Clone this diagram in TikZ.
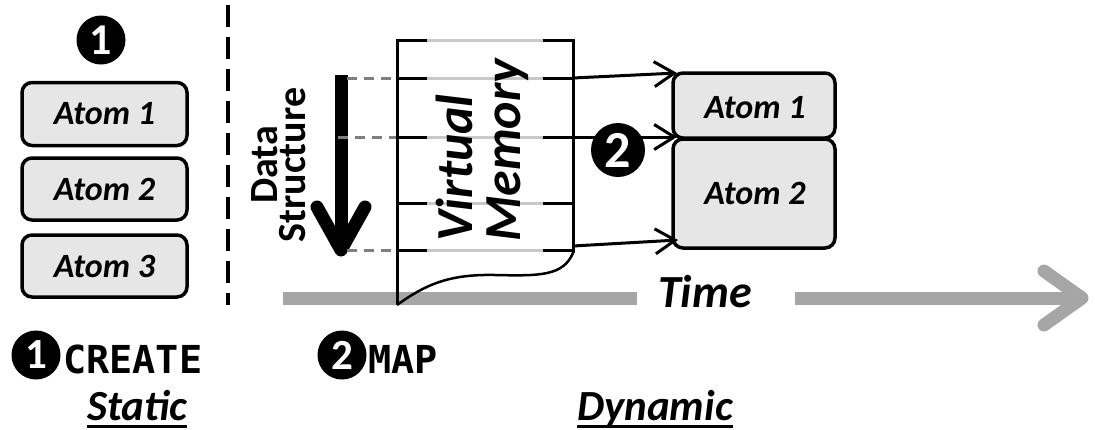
\documentclass[tikz,border=0pt]{standalone}
\usepackage{fontspec}
\setmainfont{Carlito}
\newfontfamily\monofont{DejaVu Sans Mono}
\usetikzlibrary{arrows.meta}
\definecolor{atomfill}{HTML}{E6E6E6}
\definecolor{timegray}{HTML}{A6A6A6}
\definecolor{rowgray}{HTML}{C8C8C8}
\definecolor{dashgray}{HTML}{7F7F7F}
\tikzset{
  atombox/.style={draw=black, line width=3.5pt, fill=atomfill, rounded corners=10pt,
    inner sep=0pt, font=\fontsize{34}{38}\selectfont\bfseries\itshape},
  numcirc/.style={circle, fill=black, text=white, inner sep=0pt, font=\bfseries},
  vmblack/.style={draw=black, line width=3pt},
  vmgray/.style={draw=rowgray, line width=3pt},
  maparrow/.style={draw=black, line width=3pt, -{Straight Barb[length=20pt,width=25pt,line width=3pt]}},
  dashlink/.style={draw=dashgray, line width=3pt, dash pattern=on 10pt off 7pt},
  timeline/.style={draw=timegray, line width=13pt},
  bigtext/.style={font=\fontsize{43}{50}\selectfont\bfseries\itshape, inner sep=0pt},
  cmdtext/.style={font=\fontsize{38.5}{46}\selectfont\monofont\bfseries, inner sep=0pt}
}
\begin{document}
\begin{tikzpicture}[x=1pt, y=-1pt]
\useasboundingbox (0,0) rectangle (1095,429);

% separator
\draw[line width=3.5pt, dash pattern=on 22pt off 10pt] (228,5) -- (228,305);

% left column
\node[numcirc, minimum size=49pt, font=\fontsize{44}{48}\selectfont\bfseries] (c1top) at (101,40) {1};
\node[atombox, minimum width=165pt, minimum height=63pt] (la1) at (104.5,114) {Atom 1};
\node[atombox, minimum width=165pt, minimum height=62pt] (la2) at (104.5,189) {Atom 2};
\node[atombox, minimum width=165pt, minimum height=62pt] (la3) at (104.5,266) {Atom 3};

% time axis
\coordinate (t0) at (283,298);
\coordinate (t1) at (637,298);
\coordinate (t2) at (795,298);
\coordinate (t3) at (1082,298);
\draw[timeline] (t0) -- (t1);
\draw[timeline] (t2) -- (t3);
\draw[timeline, line cap=round, line join=round] (1044,271) -- (t3) -- (1044,325);
\node[bigtext, anchor=base, font=\fontsize{46}{52}\selectfont\bfseries\itshape] (time) at (705,307) {Time};

% data structure arrow
\coordinate (ds0) at (341,75);
\coordinate (ds1) at (341,250);
\draw[line width=13pt] (ds0) -- (341,244);
\draw[line width=13pt, line cap=round, line join=round] (317,207) -- (ds1) -- (365,207);
\node[rotate=90, anchor=base, inner sep=0pt, font=\fontsize{40}{44}\selectfont\bfseries] (dsa) at (277,165) {Data};
\node[rotate=90, anchor=base, inner sep=0pt, font=\fontsize{40}{44}\selectfont\bfseries] (dsb) at (305,165) {Structure};

% virtual memory
\coordinate (vl1) at (397,78);
\coordinate (vl2) at (397,137);
\coordinate (vl3) at (397,250);
\draw[dashlink] (347,78) -- (vl1);
\draw[dashlink] (338,137) -- (vl2);
\draw[dashlink] (347,250) -- (vl3);
\foreach \yy in {40,78,137,203,250} {
  \draw[vmgray] (427,\yy) -- (543,\yy);
  \draw[vmblack] (395.5,\yy) -- (427,\yy);
  \draw[vmblack] (543,\yy) -- (574.5,\yy);
}
\draw[black, line width=3pt] (397,38.5) -- (397,305);
\draw[black, line width=3pt] (573,38.5) -- (573,253);
\draw[black, line width=2.5pt] (397,305) .. controls (425,285) and (448,274) .. (495,275)
   .. controls (540,276) and (563,276) .. (573,253);
\node[rotate=90, anchor=base west, inner sep=0pt, font=\fontsize{52}{56}\selectfont\bfseries\itshape] (vma) at (472,242) {Virtual};
\node[rotate=90, anchor=base west, inner sep=0pt, font=\fontsize{52}{56}\selectfont\bfseries\itshape] (vmb) at (520,242) {Memory};

% right atoms
\node[atombox, minimum width=162pt, minimum height=65pt] (ra1) at (754,105.5) {};
\node[atombox, minimum width=162pt, minimum height=109pt] (ra2) at (754,193.5) {};
\node[inner sep=0pt, font=\fontsize{34}{38}\selectfont\bfseries\itshape] (ra1t) at (755,108) {Atom 1};
\node[inner sep=0pt, font=\fontsize{34}{38}\selectfont\bfseries\itshape] (ra2t) at (755,193) {Atom 2};

% map arrows
\coordinate (vr1) at (573,78);
\coordinate (vr2) at (573,137);
\coordinate (vr3) at (573,246);
\coordinate (e1) at (677,73);
\coordinate (e2) at (677,137);
\coordinate (e3) at (678,240);
\draw[maparrow] (vr1) -- (e1);
\draw[maparrow] (vr2) -- (e2);
\draw[maparrow] (vr3) -- (e3);
\node[numcirc, minimum size=54pt, font=\fontsize{52}{56}\selectfont\bfseries] (c2mid) at (618,150) {2};

% legend
\node[numcirc, minimum size=49pt, font=\fontsize{43}{48}\selectfont\bfseries] (c1b) at (36,355) {1};
\node[cmdtext, anchor=base west] (create) at (63,373) {CREATE};
\node[numcirc, minimum size=49pt, font=\fontsize{43}{48}\selectfont\bfseries] (c2b) at (342,355) {2};
\node[cmdtext, anchor=base west] (map) at (368,373) {MAP};

\node[bigtext, anchor=base] (static) at (137,420) {Static};
\draw[line width=3pt] ([yshift=-6.5pt]static.base west) -- ([yshift=-6.5pt]static.base east);
\node[bigtext, anchor=base] (dynamic) at (655,420) {Dynamic};
\draw[line width=3pt] ([yshift=-6.5pt]dynamic.base west) -- ([yshift=-6.5pt]dynamic.base east);
\end{tikzpicture}
\end{document}
